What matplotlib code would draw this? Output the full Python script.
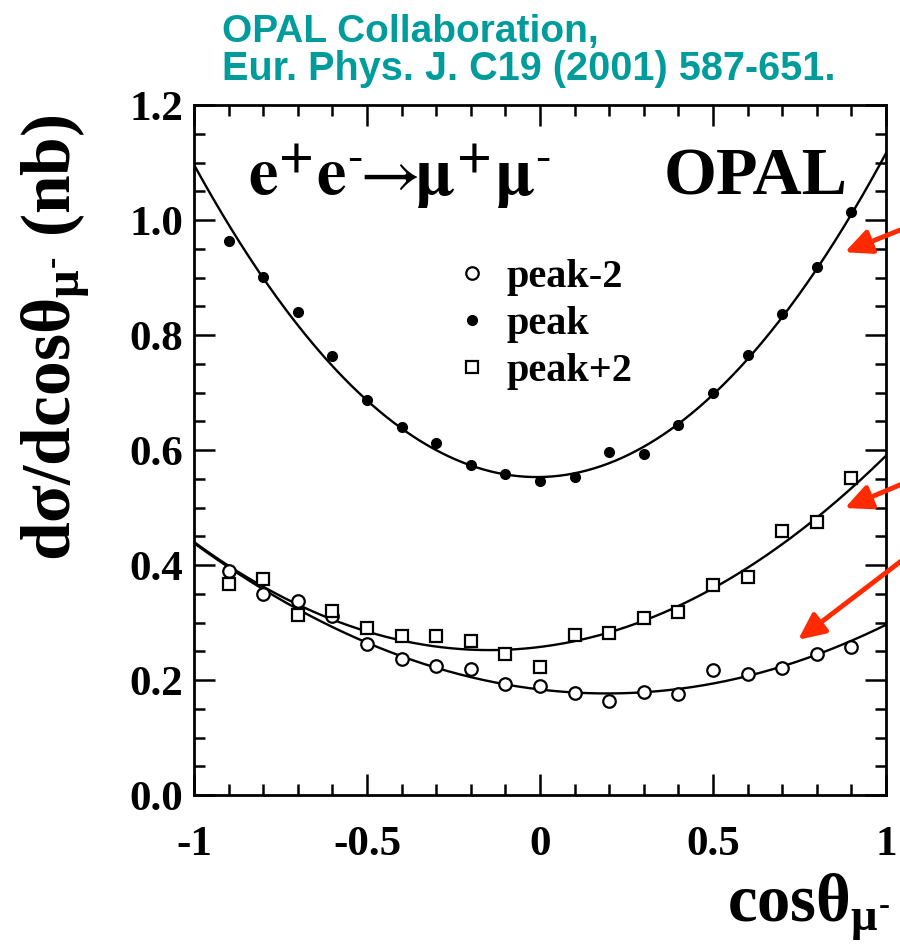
import numpy as np
import matplotlib
matplotlib.use('Agg')
import matplotlib.pyplot as plt
from matplotlib.ticker import MultipleLocator, FixedLocator

# angular bins and measured d(sigma)/dcos(theta) in nb
cos_bins = [-0.9, -0.8, -0.7, -0.6, -0.5, -0.4, -0.3, -0.2, -0.1, 0.0,
            0.1, 0.2, 0.3, 0.4, 0.5, 0.6, 0.7, 0.8, 0.9]
peak_m2 = [0.390, 0.349, 0.338, 0.312, 0.263, 0.237, 0.225, 0.220, 0.193, 0.190,
           0.178, 0.163, 0.179, 0.175, 0.217, 0.210, 0.221, 0.246, 0.257]
peak = [0.963, 0.901, 0.840, 0.763, 0.687, 0.640, 0.612, 0.574, 0.558, 0.546,
        0.553, 0.597, 0.593, 0.643, 0.699, 0.765, 0.837, 0.918, 1.014]
peak_p2 = [0.367, 0.376, 0.313, 0.320, 0.290, 0.276, 0.277, 0.268, 0.245, 0.222,
           0.278, 0.281, 0.308, 0.319, 0.365, 0.380, 0.459, 0.474, 0.551]

# fit parameters A(1+c^2) + B c
fit_m2 = (0.1835, -0.071)
fit_pk = (0.553, 0.010)
fit_p2 = (0.2575, 0.075)

labels = ['peak-2', 'peak', 'peak+2']
x_ticks = [-1, -0.5, 0, 0.5, 1]
x_ticklabels = ['-1', '-0.5', '0', '0.5', '1']
y_ticks = [0.0, 0.2, 0.4, 0.6, 0.8, 1.0, 1.2]
y_ticklabels = ['0.0', '0.2', '0.4', '0.6', '0.8', '1.0', '1.2']

serif = 'Liberation Serif'
plt.rcParams['mathtext.fontset'] = 'custom'
plt.rcParams['mathtext.rm'] = 'Liberation Serif:bold'
plt.rcParams['mathtext.it'] = 'Liberation Serif:bold'
plt.rcParams['mathtext.bf'] = 'Liberation Serif:bold'
plt.rcParams['axes.unicode_minus'] = False

fig = plt.figure(figsize=(9, 9.46), dpi=100)
ax = fig.add_axes([0.2156, 0.1596, 0.7688, 0.7294])

c = np.linspace(-1, 1, 300)
for (a, b) in [fit_m2, fit_pk, fit_p2]:
    ax.plot(c, a * (1 + c**2) + b * c, color='black', lw=1.7)

ax.plot(cos_bins, peak_m2, 'o', mfc='white', mec='black', mew=1.6, ms=9, label=labels[0])
ax.plot(cos_bins, peak, 'o', mfc='black', mec='black', ms=7, label=labels[1])
ax.plot(cos_bins, peak_p2, 's', mfc='white', mec='black', mew=1.6, ms=9, label=labels[2])

ax.set_xlim(-1, 1)
ax.set_ylim(0, 1.2)
ax.xaxis.set_major_locator(FixedLocator(x_ticks))
ax.xaxis.set_minor_locator(MultipleLocator(0.1))
ax.yaxis.set_major_locator(FixedLocator(y_ticks))
ax.yaxis.set_minor_locator(MultipleLocator(0.05))
ax.set_xticklabels(x_ticklabels)
ax.set_yticklabels(y_ticklabels)
ax.tick_params(which='both', direction='in', top=True, right=True, width=1.8)
ax.tick_params(which='major', length=15)
ax.tick_params(which='minor', length=8)
ax.tick_params(axis='x', which='major', pad=22)
ax.tick_params(axis='y', which='major', pad=8)
for lab in ax.get_xticklabels() + ax.get_yticklabels():
    lab.set_fontfamily(serif)
    lab.set_fontweight('bold')
    lab.set_fontsize(31)
for s in ax.spines.values():
    s.set_linewidth(2)

leg = ax.legend(loc='upper left', bbox_to_anchor=(0.335, 0.83), frameon=False,
                handlelength=0.5, handletextpad=0.6, labelspacing=0.25,
                prop={'family': serif, 'weight': 'bold', 'size': 29})

ax.text(0.078, 0.87,
        r'$\mathbf{e}^{\mathbf{+}}\mathbf{e}^{\text{-}}\!\!\rightarrow\!\!\mathbf{\mu}^{\mathbf{+}}\mathbf{\mu}^{\text{-}}$',
        transform=ax.transAxes, fontsize=48, math_fontfamily='stix', va='baseline')
ax.text(0.945, 0.87, 'OPAL', transform=ax.transAxes, ha='right', va='baseline',
        fontsize=49, fontfamily=serif, fontweight='bold')

fig.text(0.062, 0.643, r'd$\sigma$/dcos$\theta_{\mu^{\text{-}}}$ (nb)', rotation=90,
         ha='center', va='center', fontsize=50, fontfamily=serif, fontweight='bold')
fig.text(0.808, 0.026, r'cos$\theta_{\mu^{\text{-}}}$', ha='left', va='baseline',
         fontsize=48, fontfamily=serif, fontweight='bold')

teal = '#009c9c'
fig.text(0.247, 0.9556, 'OPAL Collaboration,', color=teal, fontsize=28,
         fontfamily='Liberation Sans', fontweight='bold', va='baseline')
fig.text(0.247, 0.9154, 'Eur. Phys. J. C19 (2001) 587-651.', color=teal, fontsize=28.5,
         fontfamily='Liberation Sans', fontweight='bold', va='baseline')

# red arrows pointing at the three curves
arrows = [((1.055, 0.986), (0.881, 0.944)),
          ((1.055, 0.543), (0.881, 0.499)),
          ((1.055, 0.412), (0.746, 0.270))]
for start, tip in arrows:
    ax.annotate('', xy=tip, xytext=start, annotation_clip=False,
                arrowprops=dict(arrowstyle='-|>,head_length=1.6,head_width=0.75',
                                color='#ff2a00', lw=3.5, shrinkA=0, shrinkB=0))

fig.savefig('out.png', dpi=100)
